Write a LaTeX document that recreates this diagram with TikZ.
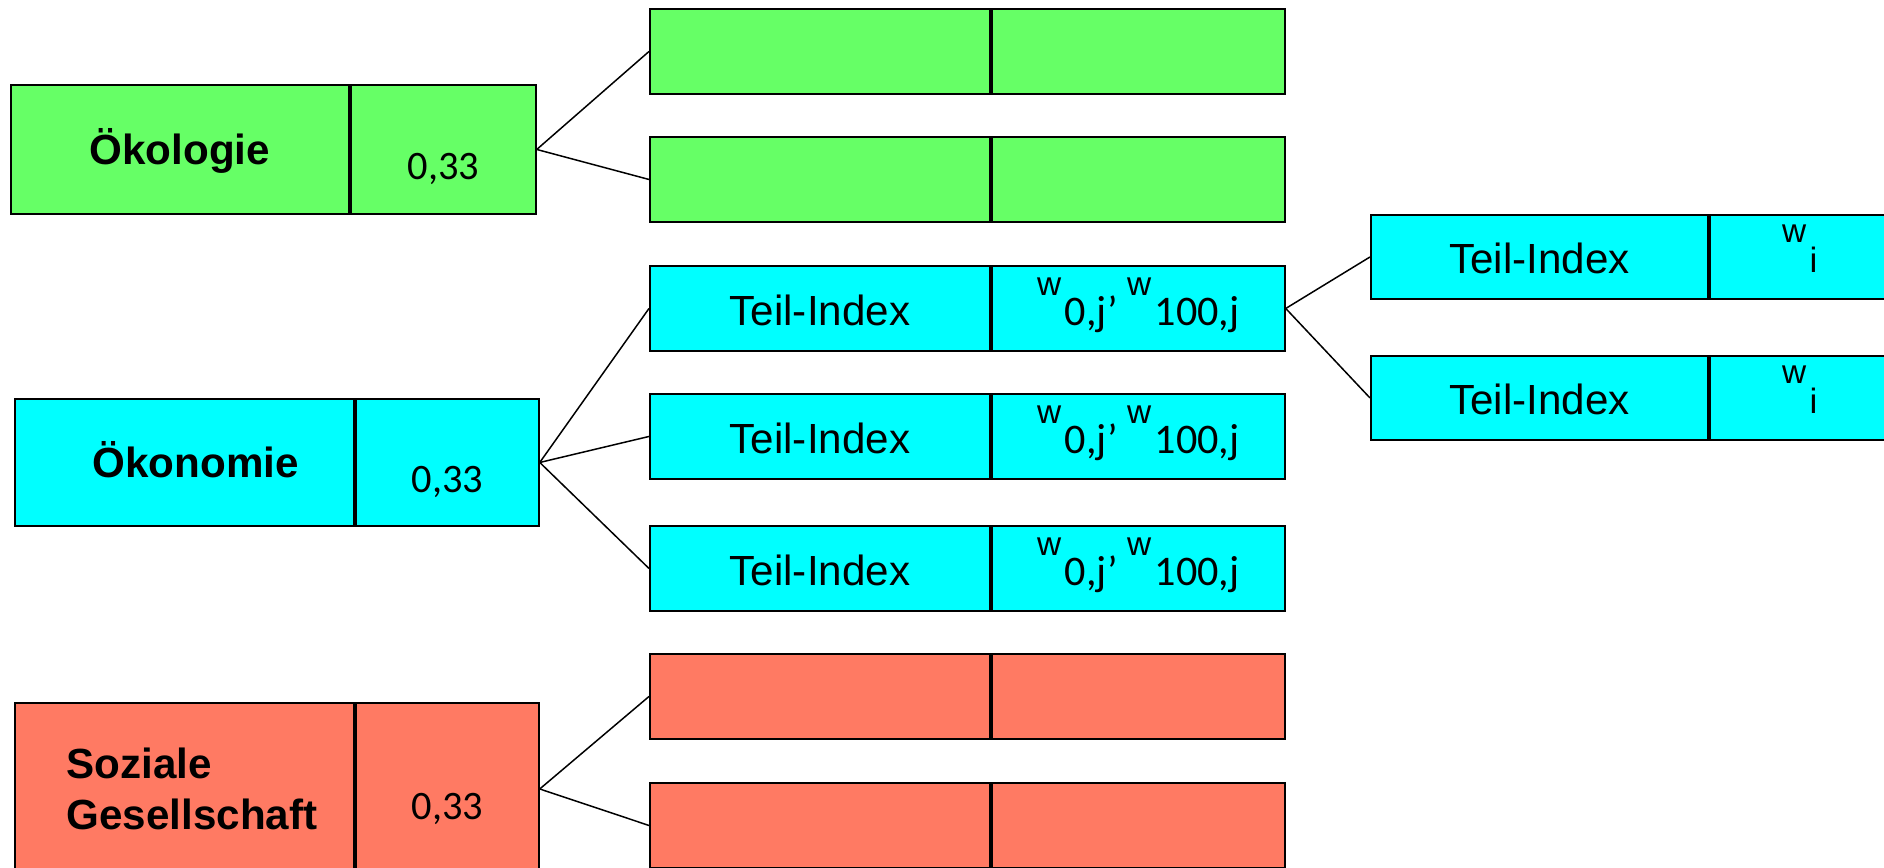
\documentclass[tikz,border=0pt]{standalone}
\usepackage{fontspec}
\setmainfont{Liberation Sans}
\newfontfamily\numfont{Carlito}
\usepackage{xcolor}
\usetikzlibrary{positioning}

\definecolor{oekogreen}{HTML}{66FF66}
\definecolor{oekocyan}{HTML}{00FFFF}
\definecolor{sozred}{HTML}{FF7A63}

% raised w in front of an index
\newcommand{\wgt}[2][19]{\smash{\raisebox{17pt}{\rmfamily\fontsize{#1}{20}\selectfont w}}\kern2pt#2}

\begin{document}
\begin{tikzpicture}[
  x=0.02cm, y=-0.02cm,
  every node/.style={draw, line width=1.1pt, inner sep=0pt, font=\fontsize{24}{28}\selectfont},
  mainbox/.style={anchor=north west, minimum height=2.58cm, text height=17pt, text depth=0pt,
    font=\fontsize{24}{29.5}\selectfont\bfseries},
  weightbox/.style={minimum width=3.7cm, minimum height=2.58cm, text height=34.5pt, text depth=0pt,
    font=\numfont\fontsize{23}{26}\selectfont},
  part/.style={anchor=north west, minimum width=6.8cm, minimum height=1.7cm, text height=19pt, text depth=0pt},
  partw/.style={minimum width=5.86cm, minimum height=1.7cm, text height=19pt, text depth=0pt,
    font=\numfont\fontsize{24}{26}\selectfont},
  sub/.style={anchor=north west, minimum width=6.74cm, minimum height=1.68cm, text height=19pt, text depth=0pt},
  subw/.style={minimum width=3.6cm, minimum height=1.68cm, text height=18pt, text depth=0pt,
    font=\fontsize{20}{24}\selectfont},
  link/.style={draw, line width=0.85pt}
]
\useasboundingbox (0,0) rectangle (1884,867);
\clip (0,0) rectangle (1884,867);

% dimensions
\node[mainbox, fill=oekogreen, minimum width=6.76cm] (oeko) at (10,84) {Ökologie};
\node[weightbox, fill=oekogreen, right=0pt of oeko] (oekoW) {0,33};
\node[mainbox, fill=oekocyan, minimum width=6.78cm, minimum height=2.54cm] (oekon) at (14,398) {\hspace*{0.45cm}Ökonomie};
\node[weightbox, fill=oekocyan, minimum height=2.54cm, minimum width=3.66cm, right=0pt of oekon] (oekonW) {0,33};
\node[mainbox, fill=sozred, minimum width=6.78cm, minimum height=3.44cm, align=left,
  text height=, text depth=] (soz) at (14,702) {\hspace*{0.3cm}Soziale\\\hspace*{0.3cm}Gesellschaft};
\node[weightbox, fill=sozred, minimum height=3.44cm, minimum width=3.66cm, right=0pt of soz] (sozW) {0,33};

% partial indices
\node[part, fill=oekogreen] (g1) at (649,8) {};
\node[partw, fill=oekogreen, right=0pt of g1] (g1w) {};
\node[part, fill=oekogreen] (g2) at (649,136) {};
\node[partw, fill=oekogreen, right=0pt of g2] (g2w) {};

\node[part, fill=oekocyan] (c1) at (649,265) {Teil-Index};
\node[partw, fill=oekocyan, right=0pt of c1] (c1w) {\wgt{0,j’} \wgt{100,j}};
\node[part, fill=oekocyan] (c2) at (649,393) {Teil-Index};
\node[partw, fill=oekocyan, right=0pt of c2] (c2w) {\wgt{0,j’} \wgt{100,j}};
\node[part, fill=oekocyan] (c3) at (649,525) {Teil-Index};
\node[partw, fill=oekocyan, right=0pt of c3] (c3w) {\wgt{0,j’} \wgt{100,j}};

\node[part, fill=sozred] (r1) at (649,653) {};
\node[partw, fill=sozred, right=0pt of r1] (r1w) {};
\node[part, fill=sozred] (r2) at (649,782) {};
\node[partw, fill=sozred, right=0pt of r2] (r2w) {};

% sub indices
\node[sub, fill=oekocyan] (t1) at (1370,214) {Teil-Index};
\node[subw, fill=oekocyan, right=0pt of t1] (t1w) {\wgt{i}};
\node[sub, fill=oekocyan] (t2) at (1370,355) {Teil-Index};
\node[subw, fill=oekocyan, right=0pt of t2] (t2w) {\wgt{i}};

% connectors
\draw[link] (oekoW.east) -- (g1.west);
\draw[link] (oekoW.east) -- (g2.west);
\draw[link] (oekonW.east) -- (c1.west);
\draw[link] (oekonW.east) -- (c2.west);
\draw[link] (oekonW.east) -- (c3.west);
\draw[link] (sozW.east) -- (r1.west);
\draw[link] (sozW.east) -- (r2.west);
\draw[link] (c1w.east) -- (t1.west);
\draw[link] (c1w.east) -- (t2.west);
\end{tikzpicture}
\end{document}
